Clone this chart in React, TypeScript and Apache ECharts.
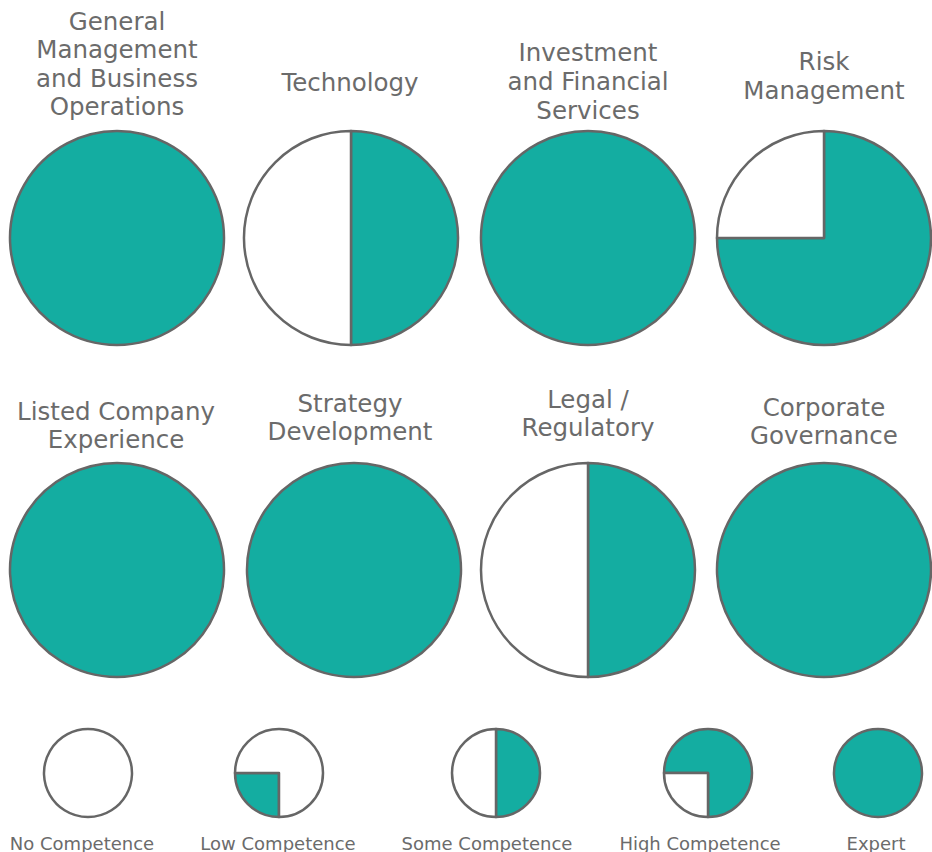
import React, { useEffect, useRef } from "react";
import * as echarts from "echarts";

const categories = [
  "General\nManagement\nand Business\nOperations",
  "Technology",
  "Investment\nand Financial\nServices",
  "Risk\nManagement",
  "Listed Company\nExperience",
  "Strategy\nDevelopment",
  "Legal /\nRegulatory",
  "Corporate\nGovernance",
];
// quarters filled (0..4)
const competence = [4, 2, 4, 3, 4, 4, 2, 4];
const legendLabels = ["No Competence", "Low Competence", "Some Competence", "High Competence", "Expert"];
const legendLevels = [0, 1, 2, 3, 4];

const TEAL = "#14ADA1";
const STROKE = "#666666";
const TEXT = "#6b6b6b";
const FONT = "DejaVu Sans";

function ballData(level: number) {
  const items: any[] = [];
  if (level > 0) items.push({ value: level, itemStyle: { color: TEAL } });
  if (level < 4) items.push({ value: 4 - level, itemStyle: { color: "#ffffff" } });
  return items;
}

export default function App() {
  const ref = useRef<HTMLDivElement>(null);
  useEffect(() => {
    document.body.style.margin = "0";
    const chart = echarts.init(ref.current!, null, { renderer: "svg" });
    const bigPos = [
      [117, 238], [351, 238], [588, 238], [824, 238],
      [117, 570], [354, 570], [588, 570], [824, 570],
    ];
    const titleY = [64, 82, 81.5, 76, 425.5, 417.5, 413.5, 421.5];
    const titleX = [117, 350, 588, 824, 116, 350, 588, 824];
    const LINE = 28.6;
    const legPos = [[88, 773], [279, 773], [496, 773], [708, 773], [878, 773]];
    const legStart = [90, 270, 90, 180, 90];
    const legLabelX = [82, 278, 487, 700, 876];

    const series: any[] = [];
    competence.forEach((lv, i) => {
      series.push({
        type: "pie",
        center: bigPos[i],
        radius: 107,
        startAngle: 90,
        clockwise: true,
        silent: true,
        label: { show: false },
        labelLine: { show: false },
        emphasis: { disabled: true },
        itemStyle: { borderColor: STROKE, borderWidth: 2.5 },
        data: ballData(lv),
      });
    });
    legendLevels.forEach((lv, i) => {
      series.push({
        type: "pie",
        center: legPos[i],
        radius: 44,
        startAngle: legStart[i],
        clockwise: true,
        silent: true,
        label: { show: false },
        labelLine: { show: false },
        emphasis: { disabled: true },
        itemStyle: { borderColor: STROKE, borderWidth: 2.5 },
        data: ballData(lv),
      });
    });

    const graphic: any[] = [];
    categories.forEach((c, i) => {
      const lines = c.split("\n");
      const first = titleY[i] - ((lines.length - 1) * LINE) / 2;
      lines.forEach((ln, j) => {
        graphic.push({
          type: "text",
          x: titleX[i],
          y: first + j * LINE,
          silent: true,
          style: {
            text: ln,
            fill: TEXT,
            fontSize: 24.5,
            fontFamily: FONT,
            align: "center",
            verticalAlign: "middle",
          },
        });
      });
    });
    legendLabels.forEach((l, i) => {
      graphic.push({
        type: "text",
        x: legLabelX[i],
        y: 843,
        silent: true,
        style: {
          text: l,
          fill: TEXT,
          fontSize: 18,
          fontFamily: FONT,
          align: "center",
          verticalAlign: "middle",
        },
      });
    });

    chart.setOption({
      animation: false,
      backgroundColor: "#ffffff",
      series,
      graphic,
    });
    return () => chart.dispose();
  }, []);
  return <div ref={ref} style={{ width: 932, height: 852 }} />;
}
